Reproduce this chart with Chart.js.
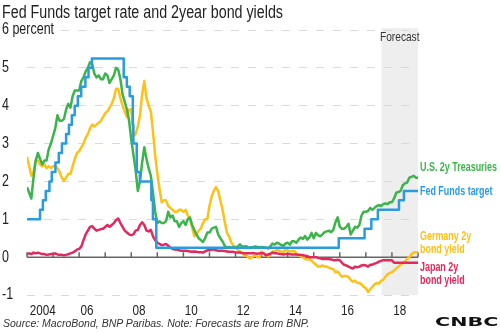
<!DOCTYPE html>
<html>
<head>
<meta charset="utf-8">
<script src="https://cdn.jsdelivr.net/npm/chart.js@4/dist/chart.umd.min.js"></script>
<style>
  body { margin: 0; background: #fff; }
  #wrap { position: relative; width: 500px; height: 333px; overflow: hidden;
          font-family: "Liberation Sans", Arial, sans-serif; }
  #wrap canvas { position: absolute; left: 0; top: 0; }
  .t { position: absolute; white-space: nowrap; transform-origin: left top; }
  .lab { font-weight: bold; font-size: 12px; line-height: 12.5px; }
</style>
</head>
<body>
<div id="wrap">
  <canvas id="chart" width="500" height="333"></canvas>
  <div class="t" id="title" style="left:2px;top:2px;font-size:17.5px;color:#222;">Fed Funds target rate and 2year bond yields</div>
  <div class="t lab" id="usLab" style="left:420px;top:161px;color:#3cb44b;">U.S. 2y Treasuries</div>
  <div class="t lab" style="left:420px;top:185px;color:#2b9be0;">Fed Funds target</div>
  <div class="t lab" style="left:420px;top:230px;color:#fdc118;">Germany 2y<br>bond yield</div>
  <div class="t lab" style="left:420px;top:261px;color:#e2285c;">Japan 2y<br>bond yield</div>
  <div class="t" style="left:3px;top:317px;font-style:italic;font-size:10.5px;color:#333;">Source: MacroBond, BNP Paribas. Note: Forecasts are from BNP.</div>
  <div class="t" style="left:435px;top:315px;font-family:'DejaVu Sans',sans-serif;font-weight:900;font-size:12px;color:#111;transform:scaleX(1.72);">CNBC</div>
</div>
<script>
// monthly values, Jan 2004 .. Jan 2019
const startYear = 2004;
const forecastStart = 2017.6;

const usTreasury2y = [
  1.85, 1.7, 1.55, 2.1, 2.55, 2.75, 2.6, 2.45, 2.55, 2.55, 2.85, 3.0,
  3.2, 3.4, 3.75, 3.6, 3.6, 3.65, 3.9, 4.05, 3.95, 4.25, 4.4, 4.4,
  4.4, 4.65, 4.75, 4.9, 5.0, 5.15, 5.1, 4.85, 4.75, 4.8, 4.7, 4.7,
  4.85, 4.8, 4.6, 4.7, 4.8, 5.0, 4.95, 4.7, 4.3, 4.1, 3.9, 3.6,
  3.1, 2.7, 2.3, 1.75, 2.0, 2.5, 2.9, 2.6, 2.35, 2.15, 1.7, 1.2,
  0.9, 0.95, 0.9, 0.9, 0.95, 1.2, 1.05, 1.1, 0.95, 0.95, 0.8, 0.9,
  0.95, 0.85, 1.0, 1.05, 0.85, 0.72, 0.6, 0.5, 0.45, 0.4, 0.5, 0.65,
  0.65, 0.75, 0.78, 0.8, 0.6, 0.5, 0.42, 0.3, 0.25, 0.27, 0.25, 0.26,
  0.24, 0.28, 0.34, 0.28, 0.28, 0.29, 0.24, 0.26, 0.26, 0.28, 0.27, 0.26,
  0.27, 0.26, 0.25, 0.23, 0.28, 0.36, 0.33, 0.38, 0.36, 0.32, 0.30, 0.36,
  0.38, 0.33, 0.42, 0.42, 0.38, 0.46, 0.52, 0.48, 0.56, 0.46, 0.52, 0.64,
  0.50, 0.64, 0.58, 0.55, 0.60, 0.66, 0.68, 0.70, 0.66, 0.72, 0.92, 1.05,
  0.80, 0.75, 0.75, 0.80, 0.88, 0.60, 0.70, 0.80, 0.78, 0.85, 1.10, 1.20,
  1.20, 1.22, 1.30, 1.25, 1.30, 1.35, 1.37, 1.35, 1.40, 1.42, 1.40, 1.45,
  1.45, 1.55, 1.70, 1.72, 1.75, 1.90, 1.95, 1.97, 2.10, 2.12, 2.15, 2.10,
  2.10
];

const germany2y = [
  2.65, 2.4, 2.15, 2.25, 2.55, 2.55, 2.45, 2.4, 2.45, 2.35, 2.4, 2.35,
  2.4, 2.4, 2.35, 2.25, 2.1, 2.02, 2.1, 2.2, 2.2, 2.4, 2.6, 2.75,
  2.8, 2.9, 3.0, 3.15, 3.25, 3.4, 3.5, 3.45, 3.5, 3.55, 3.6, 3.7,
  3.8, 3.85, 3.95, 4.05, 4.2, 4.45, 4.45, 4.2, 4.0, 3.85, 3.7, 3.9,
  3.9, 3.2, 3.25, 3.45, 3.75, 4.3, 4.65, 4.2, 4.0, 3.85, 3.3, 2.7,
  2.2, 1.8, 1.45, 1.5, 1.5, 1.35, 1.3, 1.25, 1.2, 1.2, 1.25, 1.25,
  1.2, 1.25, 1.1, 1.0, 0.8, 0.55, 0.6, 0.7, 0.75, 0.9, 1.0, 1.0,
  1.35, 1.6, 1.75, 1.85, 1.75, 1.5, 1.25, 0.95, 0.65, 0.55, 0.4, 0.3,
  0.28, 0.2, 0.15, 0.12, 0.05, 0.05, -0.02, -0.03, 0.02, 0.05, 0.0, -0.01,
  0.15, 0.1, 0.05, 0.02, 0.05, 0.15, 0.15, 0.2, 0.18, 0.15, 0.12, 0.2,
  0.18, 0.15, 0.16, 0.17, 0.1, 0.05, 0.02, 0.0, -0.05, -0.06, -0.05, -0.1,
  -0.15, -0.2, -0.25, -0.25, -0.22, -0.25, -0.25, -0.28, -0.3, -0.32, -0.4, -0.38,
  -0.45, -0.52, -0.5, -0.5, -0.52, -0.6, -0.65, -0.62, -0.68, -0.68, -0.72, -0.78,
  -0.82, -0.92, -0.85, -0.78, -0.72, -0.68, -0.7, -0.62, -0.6, -0.52, -0.45, -0.42,
  -0.4, -0.35, -0.3, -0.25, -0.2, -0.15, -0.12, -0.05, 0.0, 0.08, 0.12, 0.13,
  0.13
];

const japan2y = [
  0.08, 0.1, 0.08, 0.12, 0.1, 0.12, 0.1, 0.08, 0.08, 0.06, 0.07, 0.08,
  0.08, 0.1, 0.07, 0.06, 0.06, 0.05, 0.06, 0.08, 0.1, 0.12, 0.15, 0.2,
  0.22, 0.28, 0.45, 0.6, 0.7, 0.8, 0.82, 0.75, 0.7, 0.72, 0.74, 0.75,
  0.8, 0.85, 0.8, 0.85, 0.9, 0.98, 1.02, 0.9, 0.8, 0.7, 0.65, 0.6,
  0.58, 0.6, 0.7, 0.72, 0.85, 0.92, 0.85, 0.7, 0.68, 0.72, 0.55, 0.45,
  0.38, 0.35, 0.32, 0.33, 0.35, 0.3, 0.25, 0.22, 0.2, 0.2, 0.18, 0.17,
  0.17, 0.17, 0.16, 0.15, 0.14, 0.15, 0.14, 0.13, 0.13, 0.12, 0.15, 0.18,
  0.18, 0.2, 0.2, 0.18, 0.17, 0.17, 0.17, 0.16, 0.15, 0.14, 0.14, 0.14,
  0.12, 0.12, 0.12, 0.11, 0.1, 0.1, 0.1, 0.1, 0.11, 0.1, 0.09, 0.1,
  0.1, 0.1, 0.05, 0.07, 0.09, 0.12, 0.1, 0.1, 0.09, 0.08, 0.07, 0.08,
  0.08, 0.08, 0.07, 0.07, 0.07, 0.06, 0.06, 0.05, 0.04, 0.03, 0.0, 0.0,
  0.0, 0.0, -0.02, -0.03, -0.05, -0.04, -0.05, -0.05, -0.06, -0.08, -0.08, -0.07,
  -0.08, -0.15, -0.2, -0.22, -0.25, -0.28, -0.3, -0.25, -0.27, -0.25, -0.22, -0.21,
  -0.22, -0.25, -0.2, -0.2, -0.17, -0.15, -0.12, -0.1, -0.08, -0.08, -0.08, -0.08,
  -0.08, -0.15, -0.15, -0.15, -0.15, -0.15, -0.15, -0.15, -0.15, -0.15, -0.15, -0.15,
  -0.15
];

// fed funds target (upper bound): date of change and new rate
const fedDates = [
  2004.0, 2004.5, 2004.61, 2004.72, 2004.86, 2004.95,
  2005.09, 2005.22, 2005.34, 2005.5, 2005.61, 2005.72, 2005.83, 2005.95,
  2006.08, 2006.24, 2006.36, 2006.49,
  2007.71, 2007.83, 2007.94,
  2008.06, 2008.08, 2008.21, 2008.33, 2008.77, 2008.83, 2008.96,
  2015.96, 2016.95, 2017.21, 2017.46, 2018.27, 2018.46, 2019.0
];
const fedRates = [
  1.0, 1.25, 1.5, 1.75, 2.0, 2.25,
  2.5, 2.75, 3.0, 3.25, 3.5, 3.75, 4.0, 4.25,
  4.5, 4.75, 5.0, 5.25,
  4.75, 4.5, 4.25,
  3.5, 3.0, 2.25, 2.0, 1.5, 1.0, 0.25,
  0.5, 0.75, 1.0, 1.25, 1.5, 1.75, 1.75
];

const tickYears = [2004, 2006, 2008, 2010, 2012, 2014, 2016, 2018];
const tickLabels = ['2004', '06', '08', '10', '12', '14', '16', '18'];
const yTicks = [-1, 0, 1, 2, 3, 4, 5, 6];

const monthly = arr => arr.map((v, i) => ({ x: startYear + i / 12, y: v }));

// narrow font look: regular font squeezed horizontally
const squeeze = 0.78;
function narrowText(ctx, text, x, y, align) {
  ctx.save();
  ctx.translate(x, y);
  ctx.scale(squeeze, 1);
  ctx.textAlign = align;
  ctx.fillText(text, 0, 0);
  ctx.restore();
}

const decoPlugin = {
  id: 'deco',
  beforeDraw(chart) {
    const { ctx, chartArea, scales } = chart;
    const x0 = scales.x.getPixelForValue(forecastStart);
    const x1 = chartArea.right;
    const top = scales.y.getPixelForValue(6.05);
    ctx.save();
    ctx.fillStyle = '#eeeeee';
    ctx.fillRect(x0, top, x1 - x0, chartArea.bottom - top);
    ctx.fillStyle = '#333';
    ctx.font = '13px "Liberation Sans", Arial, sans-serif';
    ctx.textBaseline = 'middle';
    narrowText(ctx, 'Forecast', (x0 + x1) / 2, top + 9, 'center');
    ctx.restore();
  },
  beforeDatasetsDraw(chart) {
    const { ctx, chartArea, scales } = chart;
    const y0 = scales.y.getPixelForValue(0);
    ctx.save();
    ctx.strokeStyle = '#666';
    ctx.lineWidth = 1.5;
    ctx.beginPath();
    ctx.moveTo(chartArea.left, y0);
    ctx.lineTo(chartArea.right, y0);
    for (let yr = startYear; yr <= 2019; yr++) {
      const px = scales.x.getPixelForValue(yr);
      ctx.moveTo(px, y0);
      ctx.lineTo(px, y0 - 5);
    }
    ctx.stroke();

    // y tick labels, left aligned; top one reads "6 percent"
    ctx.font = '16px "Liberation Sans", Arial, sans-serif';
    ctx.textBaseline = 'middle';
    yTicks.forEach(v => {
      const py = scales.y.getPixelForValue(v);
      const txt = v === 6 ? '6 percent' : String(v);
      if (v === 6) {
        ctx.fillStyle = '#fff';
        ctx.fillRect(0, py - 6, ctx.measureText(txt).width * squeeze + 6, 12);
      }
      ctx.fillStyle = '#222';
      narrowText(ctx, txt, 2, py, 'left');
    });

    // x tick labels
    ctx.font = '15px "Liberation Sans", Arial, sans-serif';
    tickYears.forEach((yr, i) => {
      const px = scales.x.getPixelForValue(yr + (i === 0 ? 0.6 : 0.3));
      narrowText(ctx, tickLabels[i], px, chartArea.bottom + 16, 'center');
    });
    ctx.restore();
  }
};

new Chart(document.getElementById('chart'), {
  type: 'line',
  data: {
    datasets: [
      { label: 'Fed Funds target', data: fedDates.map((d, i) => ({ x: d, y: fedRates[i] })),
        borderColor: '#2b9be0', stepped: true },
      { label: 'Japan 2y bond yield', data: monthly(japan2y), borderColor: '#e2285c' },
      { label: 'U.S. 2y Treasuries', data: monthly(usTreasury2y), borderColor: '#3cb44b' },
      { label: 'Germany 2y bond yield', data: monthly(germany2y), borderColor: '#fdc118' }
    ]
  },
  options: {
    responsive: false,
    animation: false,
    layout: { padding: { left: 2, right: 82, top: 30, bottom: 0 } },
    elements: {
      point: { radius: 0 },
      line: { borderWidth: 2.5, tension: 0, borderJoinStyle: 'round' }
    },
    plugins: { legend: { display: false }, tooltip: { enabled: false } },
    scales: {
      x: {
        type: 'linear', min: 2004, max: 2019,
        grid: { display: false }, border: { display: false },
        afterFit: s => { s.height = 38; },
        ticks: { display: false }
      },
      y: {
        min: -1, max: 6,
        afterBuildTicks: s => { s.ticks = yTicks.map(v => ({ value: v })); },
        afterFit: s => { s.width = 25; },
        border: { display: false, dash: [8, 9] },
        grid: { drawTicks: false, color: c => c.tick && c.tick.value === 0 ? 'rgba(0,0,0,0)' : '#dadada', lineWidth: 1 },
        ticks: { display: false }
      }
    }
  },
  plugins: [decoPlugin]
});

// squeeze the html labels to the narrow widths of the original
const title = document.getElementById('title');
title.style.transform = 'scaleX(' + (281 / title.getBoundingClientRect().width) + ')';
const labScale = 77 / document.getElementById('usLab').getBoundingClientRect().width;
document.querySelectorAll('.lab').forEach(el => { el.style.transform = 'scaleX(' + labScale + ')'; });
</script>
</body>
</html>
